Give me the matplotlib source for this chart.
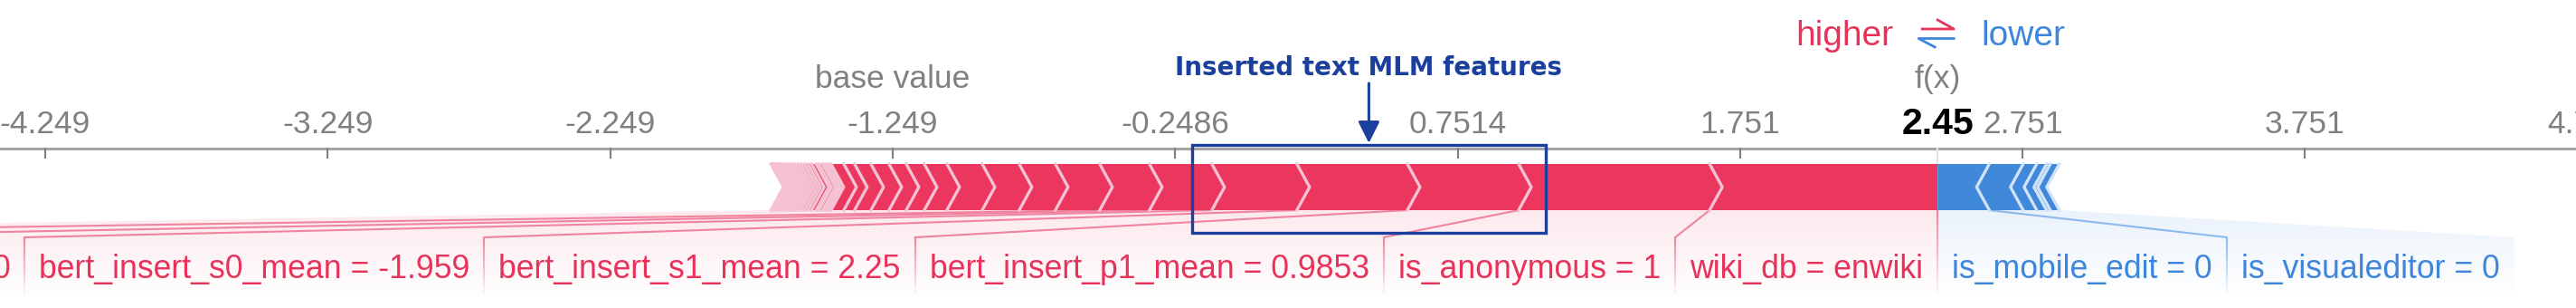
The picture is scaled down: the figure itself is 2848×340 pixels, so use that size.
import numpy as np
import matplotlib
matplotlib.use("Agg")
import matplotlib.pyplot as plt
from matplotlib.patches import Polygon, Rectangle
from matplotlib.collections import LineCollection
from matplotlib.colors import to_rgba

# values
base_value = -1.2486
fx = 2.45
tick_values = [-4.249, -3.249, -2.249, -1.249, -0.2486, 0.7514, 1.751, 2.751, 3.751, 4.751]
tick_labels = ["-4.249", "-3.249", "-2.249", "-1.249", "-0.2486", "0.7514", "1.751", "2.751", "3.751", "4.751"]

# features pushing higher, ordered from f(x) outwards
pos_labels = ["wiki_db = enwiki", "is_anonymous = 1", "bert_insert_p1_mean = 0.9853",
              "bert_insert_s1_mean = 2.25", "bert_insert_s0_mean = -1.959"]
pos_effects = [0.807, 0.676, 0.394, 0.391, 0.301, 0.221, 0.176, 0.157, 0.128, 0.131,
               0.125, 0.080, 0.064, 0.061, 0.064, 0.058, 0.038, 0.045, 0.010, 0.010,
               0.010, 0.013, 0.010, 0.016, 0.013, 0.012, 0.012, 0.011, 0.011, 0.010,
               0.010, 0.009, 0.009, 0.008, 0.008, 0.007, 0.007, 0.006, 0.006, 0.005]

# features pushing lower
neg_labels = ["is_mobile_edit = 0", "is_visualeditor = 0"]
neg_effects = [0.183, 0.120, 0.048, 0.035, 0.013, 0.032]

RED = "#EB365E"
RED_LIGHT = "#F4C2D2"
RED_TEXT = "#E8325A"
RED_LINE = "#F0849F"
BLUE = "#4088DA"
BLUE_LIGHT = "#D0E2F7"
BLUE_TEXT = "#3E86DB"
BLUE_LINE = "#8CB8EE"
GRAY = "#808080"
DARK_BLUE = "#1B3F9C"
FONT = "Liberation Sans"

W, H = 2848, 340
XMIN, XMAX = -4.409, 4.710
px = (XMAX - XMIN) / W  # data units per pixel

AXIS_Y, TICK_Y = 164, 174
BAR_TOP, BAR_BOT = 181, 232
MID = (BAR_TOP + BAR_BOT) / 2
LAB_TOP, FADE_BOT = 262, 332
tip = 14 * px
pad = 16 * px

fig = plt.figure(figsize=(W / 100, H / 100), dpi=100)
ax = fig.add_axes([0, 0, 1, 1])
ax.axis("off")
renderer = fig.canvas.get_renderer()


def fade_vline(x, color, lw=1.5):
    ys = np.linspace(LAB_TOP if x != fx else BAR_BOT, FADE_BOT - 6, 30)
    segs = [[(x, ys[k]), (x, ys[k + 1])] for k in range(len(ys) - 1)]
    cols = [to_rgba(color, 1 - k / (len(ys) - 1)) for k in range(len(ys) - 1)]
    ax.add_collection(LineCollection(segs, colors=cols, linewidths=lw, zorder=2))


def gradient_fill(verts, color):
    patch = Polygon(verts, closed=True, fc="none", ec="none")
    ax.add_patch(patch)
    grad = np.zeros((100, 1, 4))
    grad[..., :3] = to_rgba(color)[:3]
    grad[:, 0, 3] = np.linspace(0.11, 0.0, 100)
    xs = [v[0] for v in verts]
    im = ax.imshow(grad, extent=(min(xs), max(xs), FADE_BOT, BAR_BOT), aspect="auto",
                   interpolation="bilinear", zorder=1)
    im.set_clip_path(patch)


# axis
ax.plot([XMIN, XMAX], [AXIS_Y, AXIS_Y], color="#A3A3A3", lw=2.2, zorder=2)
for v, s in zip(tick_values, tick_labels):
    ax.plot([v, v], [AXIS_Y, TICK_Y], color=GRAY, lw=1.5, zorder=2)
    ax.text(v, 147, s, ha="center", va="baseline", color=GRAY, fontsize=25.5, family=FONT)
ax.plot([fx, fx], [AXIS_Y, BAR_TOP], color="#E3E3E3", lw=1.5, zorder=2)

ax.text(base_value, 97, "base value", ha="center", va="baseline", color=GRAY,
        fontsize=25.5, family=FONT)
ax.text(fx, 97, "f(x)", ha="center", va="baseline", color=GRAY, fontsize=25.5, family=FONT)
ax.text(fx, 148, "2.45", ha="center", va="baseline", color="black", fontsize=29.5,
        family=FONT, fontweight="bold", zorder=5,
        bbox=dict(fc="white", ec="none", pad=1))

# header
ax.text(fx - 49 * px, 50, "higher", ha="right", va="baseline", color=RED_TEXT,
        fontsize=28, family=FONT)
ax.text(fx + 48 * px, 50, "lower", ha="left", va="baseline", color=BLUE_TEXT,
        fontsize=28, family=FONT)
ax.plot([fx - 17 * px, fx + 18 * px, fx], [32, 32, 22], color=RED_TEXT, lw=2)
ax.plot([fx + 18 * px, fx - 21 * px, fx - 3 * px], [42.5, 42.5, 52], color=BLUE_TEXT, lw=2)

# red arrows
pos_edges = fx - np.concatenate([[0], np.cumsum(pos_effects)])
for i in range(len(pos_effects)):
    b, a = pos_edges[i], pos_edges[i + 1]
    if i == 0:
        verts = [(a, BAR_TOP), (b, BAR_TOP), (b, BAR_BOT), (a, BAR_BOT), (a + tip, MID)]
    else:
        verts = [(a, BAR_TOP), (b, BAR_TOP), (b + tip, MID), (b, BAR_BOT), (a, BAR_BOT), (a + tip, MID)]
    ax.add_patch(Polygon(verts, closed=True, fc=RED, ec="none", zorder=3))
for a in pos_edges[1:]:
    ax.plot([a, a + tip, a], [BAR_TOP, MID, BAR_BOT], color=RED_LIGHT, lw=2.4, zorder=4)

# blue arrows
neg_edges = fx + np.concatenate([[0], np.cumsum(neg_effects)])
for i in range(len(neg_effects)):
    lo, hi = neg_edges[i], neg_edges[i + 1]
    if i == 0:
        verts = [(lo, BAR_TOP), (hi, BAR_TOP), (hi - tip, MID), (hi, BAR_BOT), (lo, BAR_BOT)]
    else:
        verts = [(lo, BAR_TOP), (hi, BAR_TOP), (hi - tip, MID), (hi, BAR_BOT), (lo, BAR_BOT), (lo - tip, MID)]
    ax.add_patch(Polygon(verts, closed=True, fc=BLUE, ec="none", zorder=3))
for hi in neg_edges[1:]:
    ax.plot([hi, hi - tip, hi], [BAR_TOP, MID, BAR_BOT], color=BLUE_LIGHT, lw=2.4, zorder=4)

# red labels (three more run off the left edge, only the last "0" of one shows)
lab_right = fx
lab_lefts = []
for s in pos_labels:
    t = ax.text(lab_right - pad, 307, s, ha="right", va="baseline", color=RED_TEXT,
                fontsize=25.7, family=FONT, zorder=5)
    w = t.get_window_extent(renderer).width * px
    lab_lefts.append(lab_right - w - 2 * pad)
    lab_right = lab_lefts[-1]
ax.text(lab_right - pad, 307, "0", ha="right", va="baseline", color=RED_TEXT,
        fontsize=25.7, family=FONT, zorder=5)
for w in [339, 418, 232]:
    lab_lefts.append(lab_lefts[-1] - w * px)

fade_vline(fx, RED_LINE)
for i, la in enumerate(lab_lefts[:-1]):
    ax.plot([pos_edges[i + 1], la], [BAR_BOT, LAB_TOP], color=RED_LINE, lw=1.5, zorder=2)
    fade_vline(la, RED_LINE)
gradient_fill([(pos_edges[-1], BAR_BOT), (fx, BAR_BOT), (fx, FADE_BOT),
               (lab_lefts[-1], FADE_BOT), (lab_lefts[-1], LAB_TOP)], RED)

# blue labels
lab_left = fx
lab_rights = []
for s in neg_labels:
    t = ax.text(lab_left + pad, 307, s, ha="left", va="baseline", color=BLUE_TEXT,
                fontsize=25.7, family=FONT, zorder=5)
    w = t.get_window_extent(renderer).width * px
    lab_rights.append(lab_left + w + 2 * pad)
    lab_left = lab_rights[-1]
for i, rb in enumerate(lab_rights[:-1]):
    ax.plot([neg_edges[i + 1], rb], [BAR_BOT, LAB_TOP], color=BLUE_LINE, lw=1.5, zorder=2)
    fade_vline(rb, BLUE_LINE)
gradient_fill([(fx, BAR_BOT), (neg_edges[-1], BAR_BOT), (lab_rights[-1], LAB_TOP),
               (lab_rights[-1], FADE_BOT), (fx, FADE_BOT)], BLUE)

# annotation around the inserted-text MLM features
box_l = pos_edges[5] - 22 * px
box_r = pos_edges[2] + 30 * px
cx = (box_l + box_r) / 2
ax.add_patch(Rectangle((box_l, 160), box_r - box_l, 97, fill=False, ec=DARK_BLUE,
                       lw=2.4, zorder=6))
ax.annotate("", xy=(cx, 158), xytext=(cx, 92),
            arrowprops=dict(arrowstyle="-|>", color=DARK_BLUE, lw=2.2, mutation_scale=36,
                            shrinkA=0, shrinkB=0), zorder=6)
ax.text(cx, 83, "Inserted text MLM features", ha="center", va="baseline", color=DARK_BLUE,
        fontsize=20, fontweight="bold", family="DejaVu Sans")

ax.set_xlim(XMIN, XMAX)
ax.set_ylim(H, 0)
fig.savefig("out.png", dpi=100)
